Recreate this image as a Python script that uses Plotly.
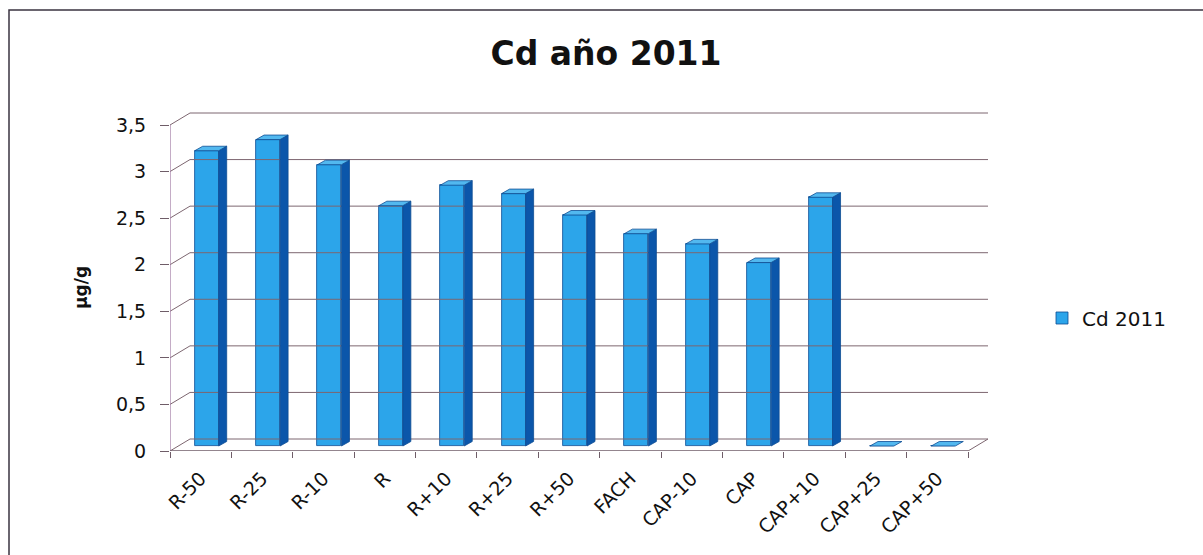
import plotly.graph_objects as go

# ---- data ----
categories = ["R-50", "R-25", "R-10", "R", "R+10", "R+25", "R+50",
              "FACH", "CAP-10", "CAP", "CAP+10", "CAP+25", "CAP+50"]
cd_2011 = [3.17, 3.29, 3.02, 2.58, 2.80, 2.71, 2.48, 2.28, 2.17, 1.97, 2.67, 0.0, 0.0]
y_ticks = [0, 0.5, 1, 1.5, 2, 2.5, 3, 3.5]
y_tick_labels = ["0", "0,5", "1", "1,5", "2", "2,5", "3", "3,5"]

# ---- layout geometry (pixels) ----
W, H = 1203, 555
PLOT_L, PLOT_R, PLOT_T, PLOT_B = 170, 991, 112, 451
FRONT_R = 968
n = len(categories)
px_per_cat = (FRONT_R - PLOT_L) / n
px_per_unit = (PLOT_B - 125) / 3.5

x_lo = -0.5
x_hi = x_lo + (PLOT_R - PLOT_L) / px_per_cat
y_hi = (PLOT_B - PLOT_T) / px_per_unit

# perspective offsets of the back wall and of the column depth
WDX, WDY = 20 / px_per_cat, 12 / px_per_unit
BDX, BDY = 8 / px_per_cat, 4.5 / px_per_unit
B_SHIFT = 6 / px_per_cat          # column centre shift inside its category
B_BASE = 5 / px_per_unit          # column base lifted above the front edge
B_W = 24 / px_per_cat             # column front width

FRONT = "#2ca5ea"
SIDE = "#0b56aa"
TOP = "#52b8ef"
EDGE = "#0e4c93"
GRID = "#7d6670"
AXIS_V = "#a47fa8"
AXIS_H = "#6f5d68"
FONT = "'DejaVu Sans', Verdana, sans-serif"
INK = "#111111"


def px_x(p):
    return (p - PLOT_L) / (PLOT_R - PLOT_L)


def px_y(p):
    return (PLOT_B - p) / (PLOT_B - PLOT_T)


fig = go.Figure()

# back-wall gridlines with the diagonal links to the front value axis
gx, gy = [], []
x_first, x_last = -0.5, n - 0.5
for t in y_ticks:
    gx += [x_first, x_first + WDX, x_last + WDX, None]
    gy += [t, t + WDY, t + WDY, None]
gx += [x_last, x_last + WDX, None]
gy += [0, WDY, None]
fig.add_trace(go.Scatter(x=gx, y=gy, mode="lines", line=dict(color=GRID, width=1),
                         hoverinfo="skip", showlegend=False))

# front value axis and floor edge
fig.add_trace(go.Scatter(x=[x_first, x_first], y=[0, y_ticks[-1]], mode="lines",
                         line=dict(color=AXIS_V, width=1.3), hoverinfo="skip", showlegend=False))
fig.add_trace(go.Scatter(x=[x_first, x_last], y=[0, 0], mode="lines",
                         line=dict(color=AXIS_H, width=1.3), hoverinfo="skip", showlegend=False))

# column front faces
xs = [i + B_SHIFT for i in range(n)]
fig.add_trace(go.Bar(x=xs, y=cd_2011, base=B_BASE, width=B_W, name="Cd 2011",
                     marker=dict(color=FRONT, line=dict(color=EDGE, width=0.8)),
                     showlegend=True))

# column side and top faces
sx, sy, tx, ty = [], [], [], []
for xc, v in zip(xs, cd_2011):
    xl, xr = xc - B_W / 2, xc + B_W / 2
    y0, y1 = B_BASE, B_BASE + v
    if v > 0:
        sx += [xr, xr + BDX, xr + BDX, xr, xr, None]
        sy += [y0, y0 + BDY, y1 + BDY, y1, y0, None]
    tx += [xl, xl + BDX, xr + BDX, xr, xl, None]
    ty += [y1, y1 + BDY, y1 + BDY, y1, y1, None]
fig.add_trace(go.Scatter(x=sx, y=sy, mode="lines", fill="toself", fillcolor=SIDE,
                         line=dict(color=EDGE, width=0.8), hoverinfo="skip", showlegend=False))
fig.add_trace(go.Scatter(x=tx, y=ty, mode="lines", fill="toself", fillcolor=TOP,
                         line=dict(color=EDGE, width=0.8), hoverinfo="skip", showlegend=False))

fig.update_layout(
    width=W, height=H,
    margin=dict(l=PLOT_L, r=W - PLOT_R, t=PLOT_T, b=H - PLOT_B),
    paper_bgcolor="white", plot_bgcolor="white",
    font=dict(family=FONT, size=18, color=INK),
    title=dict(text="<b>Cd año 2011</b>", x=px_x(606), xref="paper", xanchor="center",
               y=1 - 53 / H, yref="container", yanchor="middle",
               font=dict(family=FONT, size=33, color=INK)),
    bargap=0,
    showlegend=True,
    legend=dict(x=px_x(1042), y=px_y(318), xanchor="left", yanchor="middle",
                font=dict(family=FONT, size=20, color=INK),
                bgcolor="rgba(0,0,0,0)", itemwidth=30),
    xaxis=dict(range=[x_lo, x_hi], showgrid=False, zeroline=False, showline=False,
               tickmode="array", tickvals=list(range(n)), ticktext=categories,
               tickangle=-45, ticks="outside", ticklen=0, ticklabelstandoff=8,
               minor=dict(tick0=-0.5, dtick=1, ticks="outside", ticklen=6,
                          tickcolor=AXIS_H, showgrid=False),
               tickfont=dict(family=FONT, size=19, color=INK), fixedrange=True),
    yaxis=dict(range=[0, y_hi], showgrid=False, zeroline=False, showline=False,
               tickmode="array", tickvals=y_ticks, ticktext=y_tick_labels,
               ticks="outside", ticklen=9, tickcolor=AXIS_H, ticklabelstandoff=10,
               tickfont=dict(family=FONT, size=19, color=INK), fixedrange=True),
    annotations=[dict(text="<b>µg/g</b>", textangle=-90, x=px_x(81), y=px_y(288),
                      xref="paper", yref="paper", xanchor="center", yanchor="middle",
                      showarrow=False, font=dict(family=FONT, size=17, color=INK))],
    shapes=[dict(type="rect", xref="paper", yref="paper",
                 x0=px_x(9), x1=px_x(W + 10), y0=px_y(H + 10), y1=px_y(10),
                 line=dict(color="#3a3340", width=1.5), layer="below")],
)

fig.write_html("out.html")
